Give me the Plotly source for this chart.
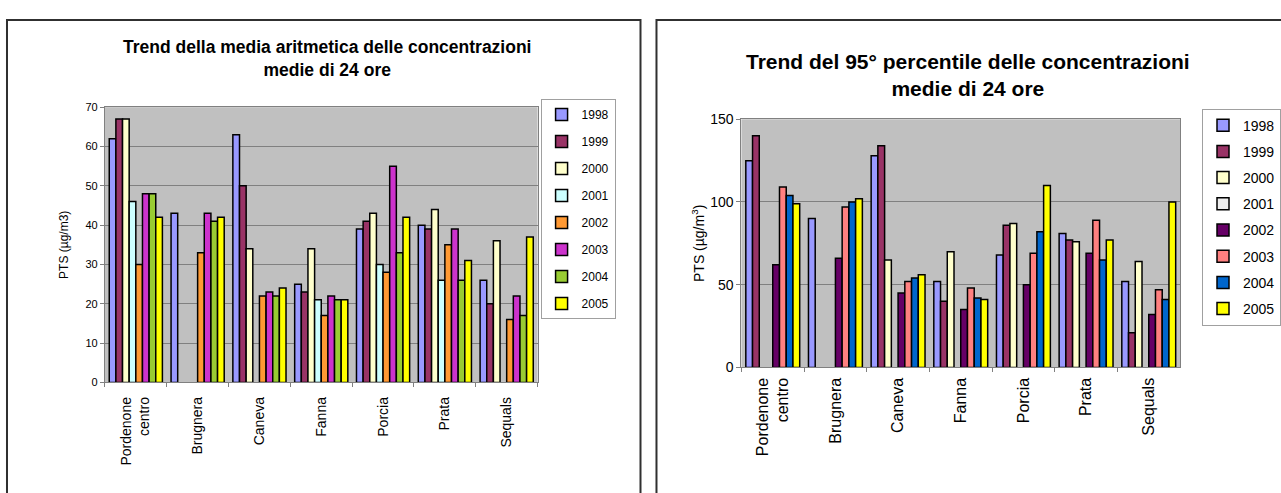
import plotly.graph_objects as go

W, H = 1281, 493

categories = ["Pordenone<br>centro", "Brugnera", "Caneva", "Fanna", "Porcia", "Prata", "Sequals"]
years = ["1998", "1999", "2000", "2001", "2002", "2003", "2004", "2005"]

# Left chart: arithmetic mean of 24h concentrations (µg/m3)
mean_1998 = [62, 43, 63, 25, 39, 40, 26]
mean_1999 = [67, None, 50, 23, 41, 39, 20]
mean_2000 = [67, None, 34, 34, 43, 44, 36]
mean_2001 = [46, None, None, 21, 30, 26, None]
mean_2002 = [30, 33, 22, 17, 28, 35, 16]
mean_2003 = [48, 43, 23, 22, 55, 39, 22]
mean_2004 = [48, 41, 22, 21, 33, 26, 17]
mean_2005 = [42, 42, 24, 21, 42, 31, 37]
mean_series = [mean_1998, mean_1999, mean_2000, mean_2001,
               mean_2002, mean_2003, mean_2004, mean_2005]

# Right chart: 95th percentile of 24h concentrations (µg/m3)
p95_1998 = [125, 90, 128, 52, 68, 81, 52]
p95_1999 = [140, None, 134, 40, 86, 77, 21]
p95_2000 = [None, None, 65, 70, 87, 76, 64]
p95_2001 = [None, None, None, None, None, None, None]
p95_2002 = [62, 66, 45, 35, 50, 69, 32]
p95_2003 = [109, 97, 52, 48, 69, 89, 47]
p95_2004 = [104, 100, 54, 42, 82, 65, 41]
p95_2005 = [99, 102, 56, 41, 110, 77, 100]
p95_series = [p95_1998, p95_1999, p95_2000, p95_2001,
              p95_2002, p95_2003, p95_2004, p95_2005]

left_colors = ["#9999FF", "#993366", "#FFFFCC", "#CCFFFF",
               "#FF9933", "#CC33CC", "#99CC33", "#FFFF00"]
right_colors = ["#9999FF", "#993366", "#FFFFCC", "#EEEEEE",
                "#660066", "#FF8080", "#0066CC", "#FFFF00"]

FONT = "Liberation Sans, Arial, sans-serif"

def px(x):
    return x / W

def py(y):
    return 1 - y / H

fig = go.Figure()

for i, yr in enumerate(years):
    fig.add_trace(go.Bar(
        x=categories, y=mean_series[i], name=yr,
        marker=dict(color=left_colors[i], line=dict(color="#000000", width=1.5)),
        xaxis="x", yaxis="y", legend="legend", legendgroup="L" + yr,
        hoverinfo="x+y+name",
    ))
for i, yr in enumerate(years):
    fig.add_trace(go.Bar(
        x=categories, y=p95_series[i], name=yr,
        marker=dict(color=right_colors[i], line=dict(color="#000000", width=1.5)),
        xaxis="x2", yaxis="y2", legend="legend2", legendgroup="R" + yr,
        hoverinfo="x+y+name",
    ))

axis_common = dict(showline=True, linecolor="#808080", linewidth=1, mirror=True,
                   ticks="outside", ticklen=4, tickcolor="#808080")

fig.update_layout(
    width=W, height=H, autosize=False,
    margin=dict(l=0, r=0, t=0, b=0),
    paper_bgcolor="white", plot_bgcolor="#C0C0C0",
    barmode="group", bargap=0.14, bargroupgap=0,
    font=dict(family=FONT, color="#000000"),
    xaxis=dict(domain=[px(105), px(538)], anchor="y", tickangle=-90,
               tickson="boundaries", tickfont=dict(size=14), ticklabelstandoff=8,
               **axis_common),
    yaxis=dict(domain=[py(387), py(102.5)], anchor="x", range=[0, 70], dtick=10,
               showgrid=True, gridcolor="#808080", gridwidth=1,
               tickfont=dict(size=11), zeroline=False,
               title=dict(text="PTS (µg/m3)", font=dict(size=12), standoff=14),
               **axis_common),
    xaxis2=dict(domain=[px(742), px(1181)], anchor="y2", tickangle=-90,
                tickson="boundaries", tickfont=dict(size=16), ticklabelstandoff=3,
                **axis_common),
    yaxis2=dict(domain=[py(371.5), py(115)], anchor="x2", range=[0, 150], dtick=50,
                showgrid=True, gridcolor="#808080", gridwidth=1,
                tickfont=dict(size=14), zeroline=False,
                title=dict(text="PTS (µg/m<sup>3</sup>)", font=dict(size=14), standoff=2),
                **axis_common),
    legend=dict(x=px(541), y=py(94), xanchor="left", yanchor="top",
                bgcolor="white", bordercolor="#A0A0A0", borderwidth=1,
                font=dict(size=12), traceorder="grouped", tracegroupgap=8,
                itemwidth=30),
    legend2=dict(x=px(1203), y=py(104), xanchor="left", yanchor="top",
                 bgcolor="white", bordercolor="#A0A0A0", borderwidth=1,
                 font=dict(size=14), traceorder="grouped", tracegroupgap=5,
                 itemwidth=30),
    annotations=[
        dict(text="<b>Trend della media aritmetica delle concentrazioni<br>medie di 24 ore</b>",
             x=px(327), y=py(52), xref="paper", yref="paper", showarrow=False,
             xanchor="center", yanchor="middle", font=dict(size=17.5), align="center"),
        dict(text="<b>Trend del 95° percentile delle concentrazioni<br>medie di 24 ore</b>",
             x=px(969), y=py(69), xref="paper", yref="paper", showarrow=False,
             xanchor="center", yanchor="middle", font=dict(size=21), align="center"),
    ],
    shapes=[
        dict(type="rect", xref="paper", yref="paper", x0=px(7), x1=px(641),
             y0=py(520), y1=py(12.5), line=dict(color="#303030", width=2)),
        dict(type="rect", xref="paper", yref="paper", x0=px(657), x1=px(1300),
             y0=py(520), y1=py(12.5), line=dict(color="#303030", width=2)),
    ],
)

fig.write_html("out.html")
